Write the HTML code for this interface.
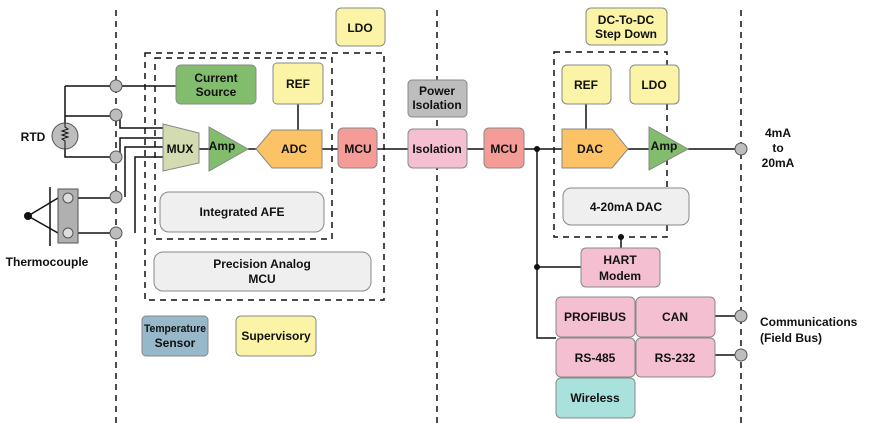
<!DOCTYPE html>
<html><head><meta charset="utf-8"><style>
html,body{margin:0;padding:0;background:#fff;}
svg{display:block;}
text{font-family:"Liberation Sans",Arial,sans-serif;font-weight:bold;font-size:12px;fill:#111;text-anchor:middle;}
</style></head><body>
<svg width="878" height="423" viewBox="0 0 878 423">
<g stroke="#111" stroke-width="1.5" stroke-dasharray="6,5" fill="none">
<line x1="116" y1="10" x2="116" y2="423"/>
<line x1="437" y1="10" x2="437" y2="423"/>
<line x1="741" y1="10" x2="741" y2="423"/>
<rect x="145" y="53" width="239" height="247"/>
<rect x="155" y="58" width="177" height="181"/>
<rect x="554" y="52" width="113" height="185"/>
</g>
<g stroke="#111" stroke-width="1.5" fill="none">
<path d="M116 86H176"/>
<path d="M65 86H116 M65 86V125 M65 116H116 M65 148V157H116"/>
<path d="M120 113V128H163 M120 157V138H163 M125 197V147H163 M135 233V157H163"/>
<path d="M78 198H116 M78 233H116"/>
<path d="M28 216L58 198 M28 216L58 233"/>
<line x1="50" y1="187" x2="50" y2="246"/>
<path d="M199 149H209 M248 149H256 M322 149H338 M298 104V130"/>
<path d="M377 149H408 M467 149H484 M524 149H562 M628 149H649 M688 149H741"/>
<path d="M586 104V129 M621 237V248"/>
<path d="M537 149V338H556 M537 267H581"/>
<path d="M715 316H741 M715 355H741"/>
</g>
<g fill="#111"><circle cx="537" cy="149" r="3"/><circle cx="537" cy="267" r="3"/><circle cx="621" cy="237" r="3"/><circle cx="28" cy="216" r="4"/></g>
<g fill="#bdbdbd" stroke="#555" stroke-width="1">
<circle cx="116" cy="86" r="6"/><circle cx="116" cy="115" r="6"/><circle cx="116" cy="157" r="6"/><circle cx="116" cy="197" r="6"/><circle cx="116" cy="233" r="6"/>
<circle cx="741" cy="149" r="6"/><circle cx="741" cy="316" r="6"/><circle cx="741" cy="355" r="6"/>
<circle cx="65" cy="136" r="13"/>
<rect x="58" y="189" width="20" height="54" fill="#b0b0b0"/>
<circle cx="68" cy="198" r="5" fill="#ddd"/><circle cx="68" cy="233" r="5" fill="#ddd"/>
</g>
<path d="M65 123V127l3 2-6 2 6 2-6 2 6 2-6 2 3 2V149" stroke="#111" fill="none" stroke-width="1"/>
<g stroke="#888" stroke-width="1">
<rect x="336" y="8" width="49" height="38" rx="5" fill="#fbf3a6"/>
<rect x="176" y="65" width="80" height="39" rx="5" fill="#82bd6e"/>
<rect x="273" y="63" width="50" height="41" rx="4" fill="#fbf3a6"/>
<polygon points="163,124 199,133 199,163 163,171" fill="#d3dcb0"/>
<polygon points="209,127 248,149 209,171" fill="#82bd6e"/>
<polygon points="256,149 272,130 322,130 322,168 272,168" fill="#fbc266"/>
<rect x="338" y="128" width="39" height="40" rx="5" fill="#f59c99"/>
<rect x="160" y="192" width="164" height="40" rx="9" fill="#eeefee"/>
<rect x="154" y="252" width="217" height="39" rx="9" fill="#eeefee"/>
<rect x="142" y="316" width="66" height="40" rx="4" fill="#97b8c9"/>
<rect x="236" y="316" width="80" height="40" rx="5" fill="#fbf3a6"/>
<rect x="408" y="80" width="59" height="37" rx="4" fill="#bdbdbd"/>
<rect x="408" y="129" width="59" height="39" rx="5" fill="#f4bfd0"/>
<rect x="484" y="128" width="40" height="40" rx="5" fill="#f59c99"/>
<rect x="586" y="8" width="81" height="37" rx="5" fill="#fbf3a6"/>
<rect x="562" y="65" width="49" height="39" rx="5" fill="#fbf3a6"/>
<rect x="630" y="65" width="49" height="39" rx="5" fill="#fbf3a6"/>
<polygon points="562,129 612,129 628,149 612,168 562,168" fill="#fbc266"/>
<polygon points="649,127 688,149 649,170" fill="#82bd6e"/>
<rect x="563" y="188" width="126" height="37" rx="8" fill="#eeefee"/>
<rect x="581" y="248" width="79" height="39" rx="5" fill="#f4bfd0"/>
<rect x="556" y="297" width="79" height="40" rx="5" fill="#f4bfd0"/>
<rect x="636" y="297" width="79" height="40" rx="5" fill="#f4bfd0"/>
<rect x="556" y="338" width="79" height="39" rx="5" fill="#f4bfd0"/>
<rect x="636" y="338" width="79" height="39" rx="5" fill="#f4bfd0"/>
<rect x="556" y="378" width="79" height="40" rx="5" fill="#a9e2dc"/>
</g>
<text x="360" y="32">LDO</text>
<text x="216" y="82">Current</text><text x="216" y="96">Source</text>
<text x="298" y="88">REF</text>
<text x="180" y="153">MUX</text>
<text x="222" y="150">Amp</text>
<text x="294" y="153">ADC</text>
<text x="358" y="153">MCU</text>
<text x="242" y="216">Integrated AFE</text>
<text x="262" y="268">Precision Analog</text><text x="262" y="283">MCU</text>
<text x="175" y="332" style="font-size:11px" textLength="62" lengthAdjust="spacingAndGlyphs">Temperature</text><text x="175" y="347">Sensor</text>
<text x="276" y="340">Supervisory</text>
<text x="437" y="95">Power</text><text x="437" y="109">Isolation</text>
<text x="437" y="153">Isolation</text>
<text x="504" y="153">MCU</text>
<text x="626" y="24">DC-To-DC</text><text x="626" y="38">Step Down</text>
<text x="586" y="89">REF</text>
<text x="654" y="89">LDO</text>
<text x="590" y="153">DAC</text>
<text x="664" y="150">Amp</text>
<text x="626" y="211">4-20mA DAC</text>
<text x="620" y="264">HART</text><text x="620" y="280">Modem</text>
<text x="595" y="321">PROFIBUS</text>
<text x="675" y="321">CAN</text>
<text x="595" y="362">RS-485</text>
<text x="675" y="362">RS-232</text>
<text x="595" y="402">Wireless</text>
<text x="33" y="141">RTD</text>
<text x="47" y="266">Thermocouple</text>
<text x="778" y="137">4mA</text><text x="778" y="152">to</text><text x="778" y="167">20mA</text>
<text x="760" y="326" style="text-anchor:start">Communications</text>
<text x="760" y="342" style="text-anchor:start">(Field Bus)</text>
</svg>
</body></html>
